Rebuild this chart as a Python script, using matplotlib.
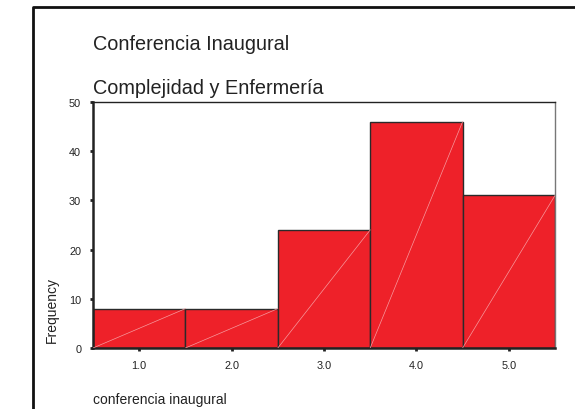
import matplotlib.pyplot as plt
from matplotlib.lines import Line2D

plt.rcParams['font.family'] = ['Liberation Sans', 'DejaVu Sans']

categories = [1.0, 2.0, 3.0, 4.0, 5.0]
counts = [8, 8, 24, 46, 31]
tick_labels = ['1.0', '2.0', '3.0', '4.0', '5.0']
title_lines = ['Conferencia Inaugural', 'Complejidad y Enfermería']

fig = plt.figure(figsize=(5.75, 4.1), dpi=100)
ax = fig.add_axes([93 / 575, 1 - 349 / 410, 462 / 575, 246 / 410])

ax.bar(categories, counts, width=1.0, color='#ee2129', edgecolor='#2a2a2a', linewidth=1.0, zorder=2)
# thin light diagonal line inside each bar
for c, n in zip(categories, counts):
    ax.plot([c - 0.5, c + 0.5], [0, n], color='#f79a9e', linewidth=0.5, zorder=3)

ax.set_xlim(0.5, 5.5)
ax.set_ylim(0, 50)
ax.set_xticks(categories)
ax.set_xticklabels(tick_labels)
ax.set_yticks([0, 10, 20, 30, 40, 50])
ax.tick_params(axis='both', labelsize=7.8, length=2.5, width=2, colors='#222222', direction='out', pad=6)
for s in ['left', 'bottom']:
    ax.spines[s].set_linewidth(1.8)
    ax.spines[s].set_color('#222222')
ax.spines['top'].set_linewidth(1.0)
ax.spines['top'].set_color('#222222')
ax.spines['right'].set_linewidth(1.0)
ax.spines['right'].set_color('#777777')

ax.set_ylabel('Frequency', fontsize=10, color='#222222')
ax.yaxis.set_label_coords(-0.073, 0.16)

fig.text(93 / 575, 1 - 44 / 410, title_lines[0], fontsize=14.3, color='#222222', va='center', ha='left')
fig.text(93 / 575, 1 - 89 / 410, title_lines[1], fontsize=14.3, color='#222222', va='center', ha='left')
fig.text(93 / 575, 1 - 400 / 410, 'conferencia inaugural', fontsize=10, color='#222222', va='center', ha='left')

# outer frame (top and left edges)
fig.add_artist(Line2D([33 / 575, 33 / 575, 1.0], [0.0, 1 - 8 / 410, 1 - 8 / 410],
                      transform=fig.transFigure, color='#111111', linewidth=2))

fig.savefig('out.png', dpi=100)
